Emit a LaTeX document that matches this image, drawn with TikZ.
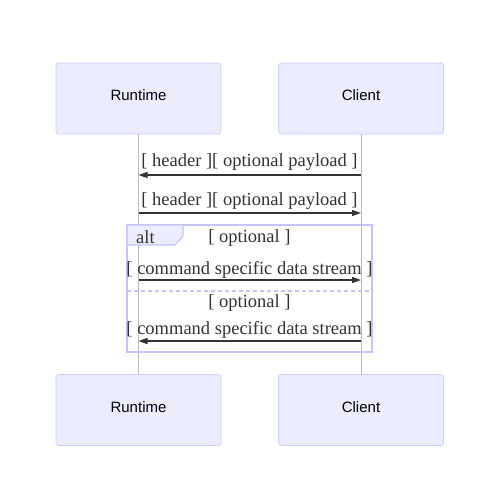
\documentclass[tikz,border=0pt]{standalone}
\usepackage{fontspec}
\setmainfont{Liberation Serif}
\newfontfamily\actorfont{Liberation Sans}
\usetikzlibrary{arrows.meta}
\definecolor{actorfill}{HTML}{ECECFF}
\definecolor{actorline}{HTML}{CCCCFF}
\definecolor{altline}{HTML}{C4C4FA}
\definecolor{ink}{HTML}{333333}
\definecolor{lifeline}{HTML}{BBBBBB}

\tikzset{
    actor/.style={draw=actorline, fill=actorfill, rounded corners=3pt, line width=0.8pt,
        minimum width=165pt, minimum height=71pt, text height=11pt, text depth=7pt,
        font=\actorfont\fontsize{15}{18}\selectfont, text=black},
    msglabel/.style={font=\fontsize{18.5}{21}\selectfont, text=ink, inner sep=0pt},
    msg/.style={draw=ink, line width=1.3pt, -{Triangle[length=9pt,width=6pt]}},
}

\begin{document}
\begin{tikzpicture}[x=1pt,y=-1pt]
        \useasboundingbox[fill=white](0,0) rectangle (500,500);
        % actors
        \node[actor] (runtimeTop) at (138.5,98.5){Runtime};
        \node[actor] (clientTop) at (361,98.5){Client};
        \node[actor] (runtimeBottom) at (138.5,410){Runtime};
        \node[actor] (clientBottom) at (361,410){Client};
        % lifelines
        \draw[lifeline, line width=0.8pt](runtimeTop.south)--(runtimeBottom.north);
        \draw[lifeline, line width=0.8pt](clientTop.south)--(clientBottom.north);
        % message end points
        \coordinate (rtA) at (138.5,175);
        \coordinate (clA) at (361,175);
        \coordinate (rtB) at (138.5,213);
        \coordinate (clB) at (361,213);
        \coordinate (rtC) at (138.5,280);
        \coordinate (clC) at (361,280);
        \coordinate (rtD) at (138.5,341);
        \coordinate (clD) at (361,341);
        % messages
        \draw[msg](clA)--(rtA);
        \node[msglabel] (labelA) at (249.5,162.5){[ header ][ optional payload ]};
        \draw[msg](rtB)--(clB);
        \node[msglabel] (labelB) at (249.5,201.5){[ header ][ optional payload ]};
        % alt frame
        \draw[altline, line width=1.8pt](127,225) rectangle (372,352);
        \draw[altline, fill=actorfill, line width=1.2pt](127,225)--(183,225)--(183,236)--(175,245)--(127,245)--cycle;
        \node[msglabel, anchor=west] (altTag) at (136,237){alt};
        \node[msglabel] (guardA) at (249.5,238.5){[ optional ]};
        \draw[altline, line width=1.5pt, dash pattern=on 4pt off 3pt](127,291)--(372,291);
        \node[msglabel] (guardB) at (249.5,303.5){[ optional ]};
        \draw[msg](rtC)--(clC);
        \node[msglabel] (labelC) at (249.5,269.5){[ command specific data stream ]};
        \draw[msg](clD)--(rtD);
        \node[msglabel] (labelD) at (249.5,329.5){[ command specific data stream ]};
    \end{tikzpicture}
\end{document}
